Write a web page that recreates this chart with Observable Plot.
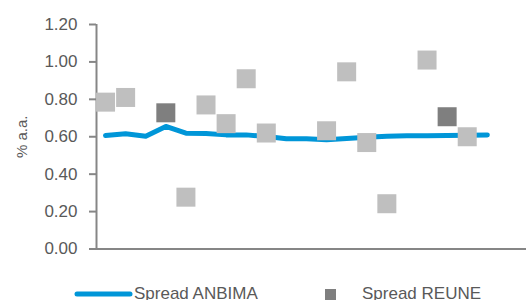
<!DOCTYPE html>
<html>
<head>
<meta charset="utf-8">
<script src="https://cdn.jsdelivr.net/npm/d3@7"></script>
<script src="https://cdn.jsdelivr.net/npm/@observablehq/plot@0.6"></script>
<style>
  html, body { margin: 0; padding: 0; background: #fff; }
  #wrap { position: relative; width: 527px; height: 300px; overflow: hidden; font-family: "Liberation Sans", Arial, sans-serif; }
  #legend { position: absolute; left: 0; top: 280px; width: 527px; height: 28px; color: #595959; font-size: 17px; }
  .item { position: absolute; top: 0; height: 28px; line-height: 28px; white-space: nowrap; }
</style>
</head>
<body>
<div id="wrap">
  <div id="chart"></div>
  <div id="legend"></div>
</div>
<script>
// Period index (no labels shown on the x axis)
const periods = [0,1,2,3,4,5,6,7,8,9,10,11,12,13,14,15,16,17,18,19];
// Spread ANBIMA (% a.a.)
const anbima = [0.607,0.616,0.603,0.655,0.619,0.617,0.610,0.610,0.601,0.589,0.589,0.584,0.590,0.597,0.603,0.605,0.605,0.607,0.608,0.610];
// Spread REUNE (% a.a.), null = no trade
const reune = [0.785,0.810,null,0.728,0.277,0.770,0.670,0.910,0.620,null,null,0.632,0.947,0.569,0.242,null,1.010,0.707,0.600,null];
// highlighted REUNE points (dark gray)
const highlight = [false,false,false,true,false,false,false,false,false,false,false,false,false,false,false,false,false,true,false,false];
const yTicks = [0,0.2,0.4,0.6,0.8,1.0,1.2];

const seriesNames = ["Spread ANBIMA", "Spread REUNE"];
const blue = "#0096D8", light = "#BFBFBF", dark = "#7F7F7F", axisGray = "#868686", textGray = "#595959";

const lineData = periods.map((p, i) => ({x: p, y: anbima[i]}));
const dotData = periods.map((p, i) => ({x: p, y: reune[i], hi: highlight[i]})).filter(d => d.y != null);

const xMin = -0.45, xMax = 20.95;

const chart = Plot.plot({
  width: 527,
  height: 280,
  marginLeft: 96,
  marginRight: 1,
  marginTop: 24,
  marginBottom: 31.5,
  style: {fontFamily: "'Liberation Sans', Arial, sans-serif", fontSize: "17px", color: textGray, background: "transparent"},
  x: {domain: [xMin, xMax], axis: null},
  y: {domain: [0, 1.2]},
  marks: [
    Plot.axisY({ticks: yTicks, tickFormat: d => d.toFixed(2), tickSize: 7, tickPadding: 12, stroke: axisGray, strokeWidth: 2, label: "% a.a.", labelAnchor: "center", labelArrow: "none", labelOffset: 80, fontSize: 17}),
    Plot.ruleX([xMin], {y1: 0, y2: 1.2, stroke: axisGray, strokeWidth: 2}),
    Plot.ruleY([0], {x1: xMin - 0.3, x2: xMax, stroke: axisGray, strokeWidth: 2}),
    Plot.line(lineData, {x: "x", y: "y", stroke: blue, strokeWidth: 5, strokeLinejoin: "round", strokeLinecap: "round"}),
    Plot.dot(dotData, {x: "x", y: "y", symbol: "square", r: 19 / Math.sqrt(Math.PI), fill: d => d.hi ? dark : light, stroke: "none"})
  ]
});
document.getElementById("chart").appendChild(chart);

// fix y-axis label font size
chart.querySelectorAll("text").forEach(t => { if (t.textContent === "% a.a.") t.setAttribute("font-size", "15"); });

const legend = document.getElementById("legend");
legend.innerHTML = `
  <div class="item" style="left:74px;"><svg width="60" height="28" style="vertical-align:top"><line x1="3" y1="14" x2="56" y2="14" stroke="${blue}" stroke-width="5" stroke-linecap="round"/></svg></div>
  <div class="item" style="left:134px;">${seriesNames[0]}</div>
  <div class="item" style="left:325px;"><svg width="12" height="28" style="vertical-align:top"><rect x="0" y="9" width="11" height="11" fill="${dark}"/></svg></div>
  <div class="item" style="left:362px;">${seriesNames[1]}</div>
`;
</script>
</body>
</html>
